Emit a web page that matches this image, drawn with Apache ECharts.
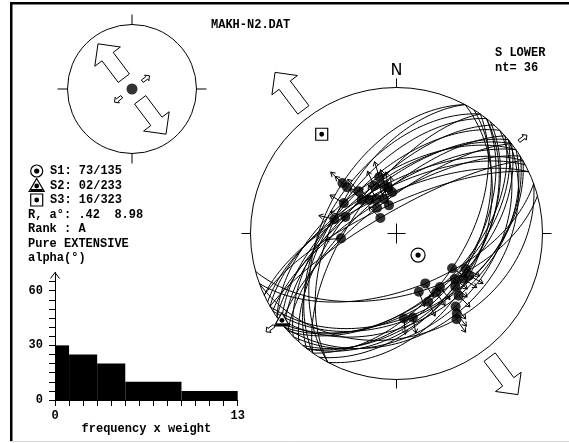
<!DOCTYPE html>
<html lang="en">
<head>
<meta charset="UTF-8">
<title>MAKH-N2.DAT</title>
<style>
  html, body { margin: 0; padding: 0; background: #fff; }
  #chart { width: 569px; height: 443px; }
</style>
</head>
<body>
<div id="chart"></div>
<script src="https://cdn.jsdelivr.net/npm/echarts@6/dist/echarts.min.js"></script>
<script>
var planeDipDir = [305, 325, 330, 335, 320, 325, 322, 330, 298, 312, 305, 322, 318, 328, 332, 315, 308, 335, 298,
                   125, 122, 128, 160, 138, 130, 165, 140, 135, 140, 150, 148, 128, 145, 142, 160, 118];
var planeDip    = [52, 58, 63, 68, 63, 66, 72, 78, 55, 62, 65, 61, 68, 70, 65, 58, 56, 74, 49,
                   53, 46, 44, 58, 51, 45, 55, 50, 36, 32, 44, 43, 48, 40, 48, 30, 42];
var striaTrend  = [313, 343, 346, 354, 314, 321, 323, 314, 283, 288, 265, 335, 330, 340, 350, 318, 300, 345, 313,
                   122, 117, 124, 150, 141, 132, 159, 146, 141, 143, 175, 169, 128, 135, 155, 145, 120];

// stress tensor result
var sigmaTrend  = [135, 233, 323];
var sigmaPlunge = [73, 2, 16];
var ratioR = '.42';
var alphaMean = '8.98';
var rankLabel = 'A';
var regimeLabel = 'Pure EXTENSIVE';
var fileName = 'MAKH-N2.DAT';
var netLabel = 'S LOWER';
var nt = 36;

// misfit histogram (alpha vs cumulated frequency x weight)
var freqEdges   = [0, 1, 3, 5, 9, 13];
var alphaLevels = [30, 25, 20, 10, 5];
var alphaTicks  = [0, 5, 10, 15, 20, 25, 30, 35, 40, 45, 50, 55, 60, 65];
var alphaLabels = [0, 30, 60];
var freqTicks   = [0, 1, 2, 3, 4, 5, 6, 7, 8, 9, 10, 11, 12, 13];
var freqLabels  = [0, 13];

var D = Math.PI / 180;
var FONT = 'bold 12px "Liberation Mono", monospace';

// Schmidt net, lower hemisphere, unit radius
function proj(trend, plunge) {
    var r = Math.SQRT2 * Math.sin((90 - plunge) / 2 * D);
    return [r * Math.sin(trend * D), r * Math.cos(trend * D)];
}

function greatCircle(dd, dip) {
    var pts = [], s = dd - 90;
    for (var k = 0; k <= 180; k += 2) {
        var pl = Math.asin(Math.sin(dip * D) * Math.sin(k * D)) / D;
        var tr = s + Math.atan2(Math.cos(dip * D) * Math.sin(k * D), Math.cos(k * D)) / D;
        pts.push(proj(tr, pl));
    }
    return pts;
}

function striaPlunge(i) {
    return Math.atan(Math.tan(planeDip[i] * D) * Math.cos((striaTrend[i] - planeDipDir[i]) * D)) / D;
}

function symbolParts(k, x, y) {
    var out = [];
    if (k === 0) {
        out.push({type: 'circle', shape: {cx: x, cy: y, r: 6}, style: {fill: '#fff', stroke: '#000', lineWidth: 1.2}});
        out.push({type: 'circle', shape: {cx: x, cy: y, r: 2.6}, style: {fill: '#000'}});
    } else if (k === 1) {
        out.push({type: 'polygon', shape: {points: [[x, y - 7], [x + 7.5, y + 6], [x - 7.5, y + 6]]}, style: {fill: '#fff', stroke: '#000', lineWidth: 1.2}});
        out.push({type: 'rect', shape: {x: x - 6, y: y + 3.5, width: 12, height: 2.5}, style: {fill: '#000'}});
        out.push({type: 'circle', shape: {cx: x, cy: y + 0.5, r: 2.4}, style: {fill: '#000'}});
    } else {
        out.push({type: 'rect', shape: {x: x - 6, y: y - 6, width: 12, height: 12}, style: {fill: '#fff', stroke: '#000', lineWidth: 1.2}});
        out.push({type: 'circle', shape: {cx: x, cy: y, r: 2.4}, style: {fill: '#000'}});
    }
    return out;
}

function arrowPts(cx, cy, trend, tail, len, w, hw) {
    var sx = Math.sin(trend * D), sy = -Math.cos(trend * D);
    var px = -sy, py = sx;
    var u1 = tail + len - hw, u2 = tail + len;
    var loc = [[tail, -w], [u1, -w], [u1, -hw], [u2, 0], [u1, hw], [u1, w], [tail, w]];
    return loc.map(function (q) {
        return [cx + q[0] * sx + q[1] * px, cy + q[0] * sy + q[1] * py];
    });
}

function netFrame(tickLen, withCross) {
    return function (params, api) {
        var c = api.coord([0, 0]), R = api.size([1, 1])[0];
        var ls = {stroke: '#000', lineWidth: 1};
        var ch = [
            {type: 'circle', shape: {cx: c[0], cy: c[1], r: R}, style: {fill: null, stroke: '#000', lineWidth: 1}},
            {type: 'line', shape: {x1: c[0], y1: c[1] - R, x2: c[0], y2: c[1] - R - tickLen}, style: ls},
            {type: 'line', shape: {x1: c[0], y1: c[1] + R, x2: c[0], y2: c[1] + R + tickLen}, style: ls},
            {type: 'line', shape: {x1: c[0] - R, y1: c[1], x2: c[0] - R - tickLen, y2: c[1]}, style: ls},
            {type: 'line', shape: {x1: c[0] + R, y1: c[1], x2: c[0] + R + tickLen, y2: c[1]}, style: ls}
        ];
        if (withCross) {
            ch.push({type: 'line', shape: {x1: c[0] - 9, y1: c[1], x2: c[0] + 9, y2: c[1]}, style: ls});
            ch.push({type: 'line', shape: {x1: c[0], y1: c[1] - 10, x2: c[0], y2: c[1] + 10}, style: ls});
            ch.push({type: 'text', style: {text: 'N', x: c[0], y: c[1] - R - 17, align: 'center', verticalAlign: 'middle',
                font: 'normal 16px "DejaVu Sans", sans-serif', fill: '#000'}});
        }
        return {type: 'group', children: ch};
    };
}

function stressArrows(bigTail, bigLen, smallTail, smallLen) {
    return function (params, api) {
        var c = api.coord([0, 0]), R = api.size([1, 1])[0];
        var t = api.value(0), big = api.value(1) === 0;
        var pts = big ? arrowPts(c[0], c[1], t, bigTail * R, bigLen, 7, 16)
                      : arrowPts(c[0], c[1], t, smallTail * R, smallLen, 1.5, 3.5);
        return {type: 'polygon', shape: {points: pts}, style: {fill: '#fff', stroke: '#000', lineWidth: 1}};
    };
}

var arcs = planeDipDir.map(function (dd, i) { return {coords: greatCircle(dd, planeDip[i])}; });
var striae = striaTrend.map(function (t, i) {
    var q = proj(t, striaPlunge(i));
    return [q[0], q[1], t];
});
var sigmaPts = sigmaTrend.map(function (t, i) {
    var q = proj(t, sigmaPlunge[i]);
    return [q[0], q[1], i];
});
var arrowData = [[sigmaTrend[2], 0], [(sigmaTrend[2] + 180) % 360, 0],
                 [sigmaTrend[1], 1], [(sigmaTrend[1] + 180) % 360, 1]];
var bars = alphaLevels.map(function (h, i) { return [freqEdges[i], freqEdges[i + 1], h]; });

function pad2(v) { return (v < 10 ? '0' : '') + v; }

var graphics = [
    {type: 'rect', shape: {x: 10, y: 2, width: 559, height: 2.5}, style: {fill: '#000'}},
    {type: 'rect', shape: {x: 10, y: 2, width: 2.5, height: 439.5}, style: {fill: '#000'}},
    {type: 'line', shape: {x1: 10, y1: 441.5, x2: 569, y2: 441.5}, style: {stroke: '#d8d8d8', lineWidth: 1}},
    {type: 'text', style: {text: fileName, x: 211, y: 25, verticalAlign: 'middle', font: FONT, fill: '#000'}},
    {type: 'text', style: {text: netLabel, x: 495, y: 53, verticalAlign: 'middle', font: FONT, fill: '#000'}},
    {type: 'text', style: {text: 'nt= ' + nt, x: 495, y: 68, verticalAlign: 'middle', font: FONT, fill: '#000'}}
];
var legendY = [171, 185.5, 200];
sigmaTrend.forEach(function (t, i) {
    graphics.push({type: 'text', style: {text: 'S' + (i + 1) + ': ' + pad2(sigmaPlunge[i]) + '/' + t,
        x: 50, y: legendY[i], verticalAlign: 'middle', font: FONT, fill: '#000'}});
    symbolParts(i, 36.7, legendY[i]).forEach(function (g) { graphics.push(g); });
});
[['R, a\u00b0: ' + ratioR + '  ' + alphaMean, 214.5], ['Rank : ' + rankLabel, 229],
 [regimeLabel, 244], ['alpha(\u00b0)', 258]].forEach(function (r) {
    graphics.push({type: 'text', style: {text: r[0], x: 28, y: r[1], verticalAlign: 'middle', font: FONT, fill: '#000'}});
});

var hidden = {show: false, min: -1, max: 1, type: 'value', splitLine: {show: false}};
var axisFont = {fontFamily: '"Liberation Mono", monospace', fontWeight: 'bold', fontSize: 12, color: '#000'};

var option = {
    animation: false,
    backgroundColor: '#fff',
    grid: [
        {left: 250.5, top: 87.5, width: 292, height: 292, outerBoundsMode: 'none'},
        {left: 67.5, top: 24.5, width: 129, height: 129, outerBoundsMode: 'none'},
        {left: 55, top: 272.5, width: 182.7, height: 127.5, outerBoundsMode: 'none'}
    ],
    xAxis: [
        Object.assign({gridIndex: 0}, hidden),
        Object.assign({gridIndex: 1}, hidden),
        {gridIndex: 2, type: 'value', min: 0, max: 13, splitLine: {show: false},
         axisLine: {show: true, lineStyle: {color: '#000', width: 1}},
         axisTick: {show: true, customValues: freqTicks, length: 6, lineStyle: {color: '#000'}},
         axisLabel: Object.assign({customValues: freqLabels, margin: 10}, axisFont),
         name: 'frequency x weight', nameLocation: 'middle', nameGap: 18,
         nameTextStyle: axisFont}
    ],
    yAxis: [
        Object.assign({gridIndex: 0}, hidden),
        Object.assign({gridIndex: 1}, hidden),
        {gridIndex: 2, type: 'value', min: 0, max: 70, splitLine: {show: false},
         axisLine: {show: true, lineStyle: {color: '#000', width: 1}},
         axisTick: {show: true, customValues: alphaTicks, length: 6, lineStyle: {color: '#000'}},
         axisLabel: Object.assign({customValues: alphaLabels, margin: 12}, axisFont)}
    ],
    graphic: graphics,
    series: [
        {type: 'custom', xAxisIndex: 0, yAxisIndex: 0, clip: false, silent: true, z: 1,
         data: [[0, 0]], renderItem: netFrame(9, true)},
        {type: 'lines', coordinateSystem: 'cartesian2d', xAxisIndex: 0, yAxisIndex: 0, polyline: true, silent: true, z: 2,
         lineStyle: {color: '#000', width: 1, opacity: 1}, data: arcs},
        {type: 'custom', xAxisIndex: 0, yAxisIndex: 0, clip: false, silent: true, z: 3,
         data: striae, renderItem: function (params, api) {
            var p = api.coord([api.value(0), api.value(1)]), t = api.value(2) * D;
            var dx = Math.sin(t), dy = -Math.cos(t);
            var tip = [p[0] + dx * 16, p[1] + dy * 16];
            function back(a) {
                var vx = -dx, vy = -dy, c = Math.cos(a * D), s = Math.sin(a * D);
                return [tip[0] + 5 * (vx * c - vy * s), tip[1] + 5 * (vx * s + vy * c)];
            }
            var ls = {stroke: '#000', lineWidth: 1, fill: null};
            return {type: 'group', children: [
                {type: 'line', shape: {x1: p[0], y1: p[1], x2: tip[0], y2: tip[1]}, style: ls},
                {type: 'polyline', shape: {points: [back(32), tip, back(-32)]}, style: ls}
            ]};
        }},
        {type: 'scatter', xAxisIndex: 0, yAxisIndex: 0, silent: true, z: 4, symbolSize: 10,
         itemStyle: {color: '#000'}, data: striae.map(function (s) { return [s[0], s[1]]; })},
        {type: 'custom', xAxisIndex: 0, yAxisIndex: 0, clip: false, silent: true, z: 5,
         data: sigmaPts, renderItem: function (params, api) {
            var p = api.coord([api.value(0), api.value(1)]);
            var k = api.value(2);
            var parts = symbolParts(k, p[0], p[1]);
            if (k === 0) { parts[0].shape.r = 7; }
            return {type: 'group', children: parts};
        }},
        {type: 'custom', xAxisIndex: 0, yAxisIndex: 0, clip: false, silent: true, z: 5,
         data: arrowData, renderItem: stressArrows(1.06, 47, 1.05, 10)},

        {type: 'custom', xAxisIndex: 1, yAxisIndex: 1, clip: false, silent: true, z: 1,
         data: [[0, 0]], renderItem: netFrame(10, false)},
        {type: 'scatter', xAxisIndex: 1, yAxisIndex: 1, silent: true, z: 4, symbolSize: 11,
         itemStyle: {color: '#000'}, data: [[0, 0]]},
        {type: 'custom', xAxisIndex: 1, yAxisIndex: 1, clip: false, silent: true, z: 5,
         data: arrowData, renderItem: stressArrows(0.21, 43, 0.2, 9)},

        {type: 'custom', xAxisIndex: 2, yAxisIndex: 2, silent: true, z: 3,
         data: bars, renderItem: function (params, api) {
            var p0 = api.coord([api.value(0), api.value(2)]);
            var p1 = api.coord([api.value(1), 0]);
            return {type: 'rect', shape: {x: p0[0], y: p0[1], width: p1[0] - p0[0], height: p1[1] - p0[1]},
                    style: {fill: '#000'}};
        }},
        {type: 'custom', xAxisIndex: 2, yAxisIndex: 2, clip: false, silent: true, z: 3,
         data: [[0, 70]], renderItem: function (params, api) {
            var p = api.coord([api.value(0), api.value(1)]);
            return {type: 'polyline', shape: {points: [[p[0] - 4.5, p[1] + 6], [p[0], p[1]], [p[0] + 4.5, p[1] + 6]]},
                    style: {stroke: '#000', lineWidth: 1, fill: null}};
        }}
    ]
};

var chart = echarts.init(document.getElementById('chart'));
chart.setOption(option);
</script>
</body>
</html>
